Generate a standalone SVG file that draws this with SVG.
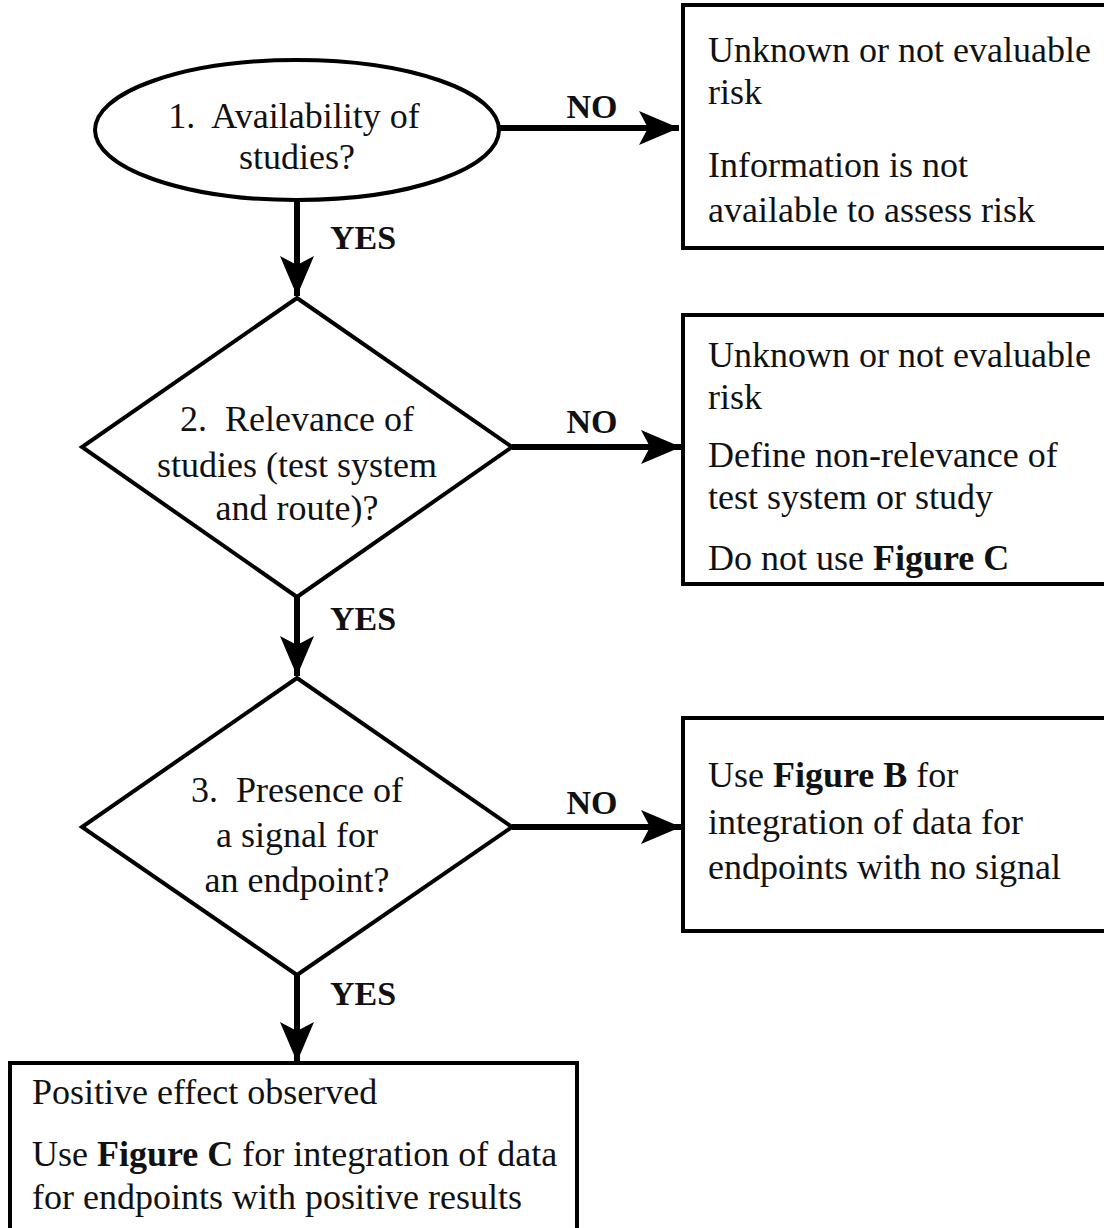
<svg xmlns="http://www.w3.org/2000/svg" width="1104" height="1228" viewBox="0 0 1104 1228">
<style>
.shape{fill:#fff;stroke:#000;stroke-width:4}
.t{font-family:"Liberation Serif","Times New Roman",serif;font-size:36px;fill:#111}
.c{text-anchor:middle}
.b{font-weight:bold}
.lbl{font-family:"Liberation Serif","Times New Roman",serif;font-size:34px;font-weight:bold;fill:#111}
.conn{stroke:#000;stroke-width:6;fill:none}
</style>
<defs>
<marker id="ah" markerUnits="userSpaceOnUse" markerWidth="44" markerHeight="36" refX="40" refY="18" orient="auto">
<path d="M0,1 L40,18 L0,35 L9,18 Z" fill="#000"/>
</marker>
</defs>
<rect width="1104" height="1228" fill="#fff"/>
<g id="connectors">
<line class="conn" x1="297" y1="200" x2="297" y2="296" marker-end="url(#ah)"/>
<line class="conn" x1="500" y1="128" x2="679" y2="128" marker-end="url(#ah)"/>
<line class="conn" x1="297" y1="597" x2="297" y2="676" marker-end="url(#ah)"/>
<line class="conn" x1="512" y1="447" x2="681" y2="447" marker-end="url(#ah)"/>
<line class="conn" x1="297" y1="975" x2="297" y2="1062" marker-end="url(#ah)"/>
<line class="conn" x1="512" y1="827" x2="681" y2="827" marker-end="url(#ah)"/>
<text class="lbl" x="592" y="118" text-anchor="middle">NO</text>
<text class="lbl" x="330" y="249">YES</text>
<text class="lbl" x="592" y="433" text-anchor="middle">NO</text>
<text class="lbl" x="330" y="630">YES</text>
<text class="lbl" x="592" y="814" text-anchor="middle">NO</text>
<text class="lbl" x="330" y="1005">YES</text>
</g>
<g id="q1">
<ellipse class="shape" cx="297" cy="130" rx="202" ry="70"/>
<text class="t c" x="294" y="128" xml:space="preserve">1.  Availability of</text>
<text class="t c" x="297" y="169">studies?</text>
</g>
<g id="r1">
<rect class="shape" x="683" y="5" width="430" height="243"/>
<text class="t" x="708" y="62">Unknown or not evaluable</text>
<text class="t" x="708" y="104">risk</text>
<text class="t" x="708" y="177">Information is not</text>
<text class="t" x="708" y="222">available to assess risk</text>
</g>
<g id="q2">
<polygon class="shape" points="297,298 512,447 297,597 82,447"/>
<text class="t c" x="297" y="431" xml:space="preserve">2.  Relevance of</text>
<text class="t c" x="297" y="477">studies (test system</text>
<text class="t c" x="297" y="520">and route)?</text>
</g>
<g id="r2">
<rect class="shape" x="683" y="315" width="430" height="269"/>
<text class="t" x="708" y="367">Unknown or not evaluable</text>
<text class="t" x="708" y="409">risk</text>
<text class="t" x="708" y="467">Define non-relevance of</text>
<text class="t" x="708" y="509">test system or study</text>
<text class="t" x="708" y="570">Do not use <tspan class="b">Figure C</tspan></text>
</g>
<g id="q3">
<polygon class="shape" points="297,678 512,827 297,975 82,827"/>
<text class="t c" x="297" y="802" xml:space="preserve">3.  Presence of</text>
<text class="t c" x="297" y="847">a signal for</text>
<text class="t c" x="297" y="892">an endpoint?</text>
</g>
<g id="r3">
<rect class="shape" x="683" y="718" width="430" height="213"/>
<text class="t" x="708" y="787">Use <tspan class="b">Figure B</tspan> for</text>
<text class="t" x="708" y="834">integration of data for</text>
<text class="t" x="708" y="879">endpoints with no signal</text>
</g>
<g id="r4">
<rect class="shape" x="10" y="1063" width="567" height="180"/>
<text class="t" x="32" y="1104">Positive effect observed</text>
<text class="t" x="32" y="1166">Use <tspan class="b">Figure C</tspan> for integration of data</text>
<text class="t" x="32" y="1209">for endpoints with positive results</text>
</g>
</svg>
